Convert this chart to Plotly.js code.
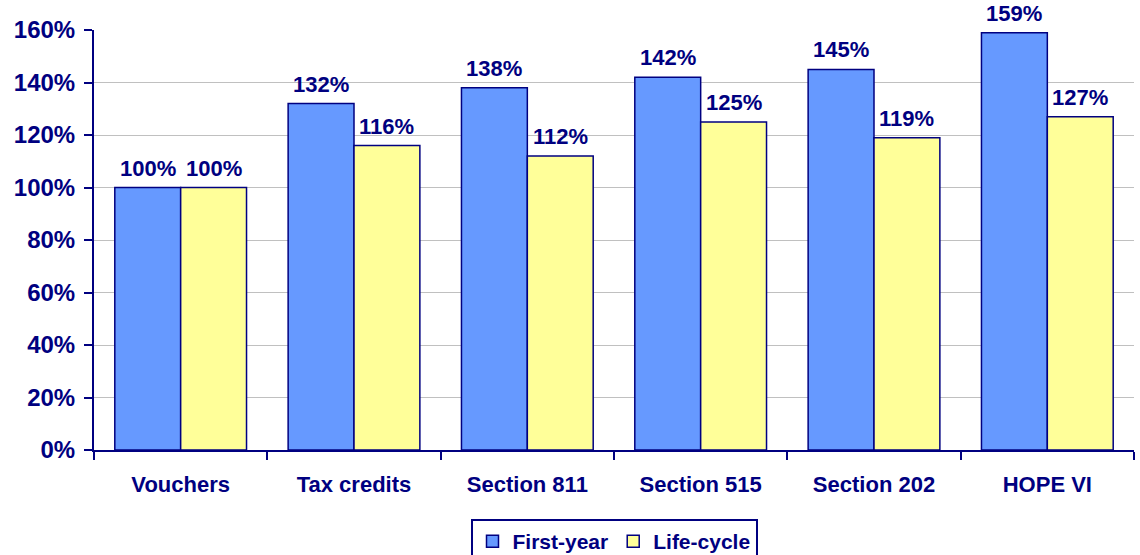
<!DOCTYPE html>
<html>
<head>
<meta charset="utf-8">
<script src="https://cdn.plot.ly/plotly-3.0.1.min.js"></script>
<style>html,body{margin:0;padding:0;background:#fff;}#chart{width:1140px;height:555px;}</style>
</head>
<body>
<div id="chart"></div>
<script>
var categories = ["Vouchers", "Tax credits", "Section 811", "Section 515", "Section 202", "HOPE VI"];
var firstYear = [100, 132, 138, 142, 145, 159];
var lifeCycle = [100, 116, 112, 125, 119, 127];
var seriesNames = ["First-year", "Life-cycle"];

var navy = "#000080";
var font = "Liberation Sans, Arial, sans-serif";
var BARGAP = 0.24;
var half = (1 - BARGAP) / 4;

function mk(name, vals, color) {
  return {
    type: "bar", name: name, x: categories, y: vals,
    marker: {color: color, line: {color: navy, width: 1.5}},
    hoverinfo: "skip"
  };
}

var data = [mk(seriesNames[0], firstYear, "#6699FF"), mk(seriesNames[1], lifeCycle, "#FFFF99")];

var annotations = [];
[firstYear, lifeCycle].forEach(function (vals, s) {
  vals.forEach(function (v, i) {
    annotations.push({
      xref: "x", yref: "y", x: i + (s === 0 ? -half : half), y: v,
      text: v + "%", showarrow: false, yanchor: "bottom", xanchor: "center", yshift: 6,
      borderpad: 0,
      font: {family: font, size: 22, color: navy, weight: "bold"}
    });
  });
});

var layout = {
  width: 1140, height: 555,
  margin: {l: 94, r: 6, t: 30, b: 105},
  paper_bgcolor: "#fff", plot_bgcolor: "#fff",
  barmode: "group", bargap: BARGAP, bargroupgap: 0,
  showlegend: true,
  annotations: annotations,
  legend: {
    orientation: "h", xref: "paper", x: 0.5, xanchor: "center",
    yref: "container", y: 1 - 519 / 555, yanchor: "top",
    bordercolor: navy, borderwidth: 2, bgcolor: "#fff",
    font: {family: font, size: 21, color: navy, weight: "bold"},
    itemwidth: 30, tracegroupgap: 0
  },
  xaxis: {
    showline: true, linecolor: navy, linewidth: 2,
    ticks: "outside", tickson: "boundaries", ticklen: 8, tickcolor: navy, tickwidth: 2,
    tickfont: {family: font, size: 22, color: navy, weight: "bold"},
    ticklabelstandoff: 14,
    showgrid: false, fixedrange: true
  },
  yaxis: {
    range: [0, 160], dtick: 20, ticksuffix: "%",
    showline: true, linecolor: navy, linewidth: 2,
    ticks: "outside", ticklen: 8, tickcolor: navy, tickwidth: 2,
    tickfont: {family: font, size: 24, color: navy, weight: "bold"},
    ticklabelstandoff: 4,
    showgrid: true, gridcolor: "#c0c0c0", gridwidth: 1,
    zeroline: false, fixedrange: true
  }
};

Plotly.newPlot("chart", data, layout, {displayModeBar: false, staticPlot: true});
</script>
</body>
</html>
